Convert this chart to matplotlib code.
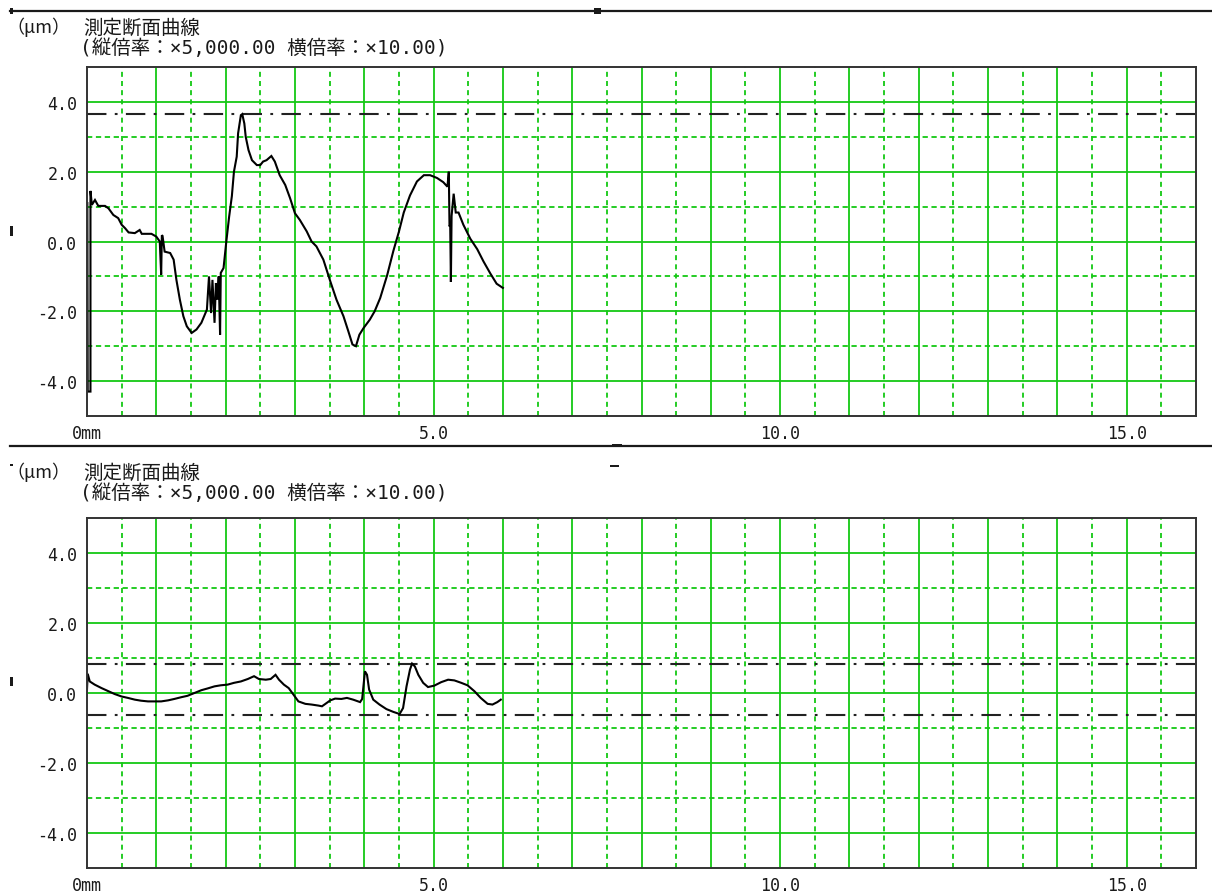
import matplotlib
matplotlib.use("Agg")
import matplotlib.pyplot as plt
from matplotlib.lines import Line2D
from matplotlib.patches import Rectangle
import numpy as np

# ---- measured profiles (x in mm, height in µm) ----
top_x = [0.005, 0.01, 0.05, 0.05, 0.07, 0.115, 0.163, 0.26, 0.31, 0.38, 0.45, 0.50, 0.55, 0.60,
         0.69, 0.76, 0.79, 0.93, 1.00, 1.05, 1.07, 1.08, 1.09, 1.12, 1.20, 1.25, 1.29, 1.34, 1.39,
         1.44, 1.51, 1.58, 1.65, 1.73, 1.76, 1.79, 1.81, 1.84, 1.86, 1.88, 1.90, 1.92, 1.93, 1.97,
         2.01, 2.05, 2.09, 2.12, 2.16, 2.18, 2.22, 2.24, 2.27, 2.29, 2.33, 2.38, 2.45, 2.50, 2.54,
         2.59, 2.66, 2.71, 2.78, 2.86, 2.93, 3.00, 3.07, 3.17, 3.24, 3.31, 3.41, 3.51, 3.60, 3.70,
         3.77, 3.83, 3.88, 3.93, 3.99, 4.08, 4.15, 4.23, 4.33, 4.42, 4.50, 4.57, 4.66, 4.76, 4.86,
         4.95, 5.05, 5.14, 5.20, 5.22, 5.23, 5.24, 5.25, 5.26, 5.29, 5.32, 5.36, 5.43, 5.53, 5.63,
         5.72, 5.82, 5.91, 6.00]
top_y = [1.10, -4.30, -4.30, 1.45, 1.05, 1.19, 1.02, 1.02, 0.95, 0.76, 0.67, 0.48, 0.38, 0.26,
         0.24, 0.33, 0.22, 0.22, 0.14, 0.00, -0.95, 0.18, 0.16, -0.29, -0.33, -0.52, -1.10, -1.67,
         -2.14, -2.43, -2.62, -2.52, -2.33, -1.95, -1.00, -2.05, -1.10, -2.33, -1.19, -1.67, -1.00,
         -2.67, -0.90, -0.76, 0.00, 0.70, 1.30, 2.00, 2.43, 3.10, 3.62, 3.65, 3.38, 3.00, 2.62,
         2.33, 2.19, 2.19, 2.29, 2.33, 2.45, 2.29, 1.90, 1.62, 1.24, 0.81, 0.62, 0.29, 0.00, -0.14,
         -0.52, -1.14, -1.67, -2.14, -2.57, -2.95, -3.00, -2.67, -2.48, -2.24, -2.00, -1.62, -0.97,
         -0.27, 0.28, 0.83, 1.32, 1.72, 1.90, 1.90, 1.82, 1.70, 1.57, 2.00, 0.43, 0.48, -1.16, 0.73,
         1.37, 0.83, 0.83, 0.48, 0.08, -0.22, -0.57, -0.92, -1.21, -1.33]
top_levels = [3.65]

bot_x = [0.00, 0.01, 0.04, 0.11, 0.21, 0.31, 0.40, 0.50, 0.59, 0.69, 0.78, 0.88, 0.98, 1.07,
         1.17, 1.26, 1.36, 1.45, 1.55, 1.65, 1.74, 1.84, 1.93, 2.03, 2.12, 2.22, 2.32, 2.41, 2.48,
         2.58, 2.65, 2.72, 2.77, 2.84, 2.91, 2.98, 3.05, 3.15, 3.24, 3.34, 3.39, 3.44, 3.51, 3.58,
         3.67, 3.75, 3.84, 3.94, 3.97, 4.01, 4.04, 4.07, 4.13, 4.22, 4.32, 4.42, 4.51, 4.56, 4.61,
         4.66, 4.69, 4.73, 4.78, 4.85, 4.92, 5.01, 5.11, 5.21, 5.30, 5.40, 5.49, 5.59, 5.68, 5.78,
         5.85, 5.92, 5.97]
bot_y = [0.10, 0.55, 0.33, 0.24, 0.14, 0.05, -0.03, -0.10, -0.14, -0.19, -0.22, -0.24, -0.24,
         -0.24, -0.21, -0.17, -0.12, -0.08, 0.00, 0.08, 0.13, 0.19, 0.22, 0.24, 0.29, 0.33, 0.40,
         0.48, 0.40, 0.38, 0.40, 0.52, 0.38, 0.24, 0.14, -0.05, -0.24, -0.31, -0.33, -0.36, -0.38,
         -0.31, -0.21, -0.16, -0.17, -0.14, -0.19, -0.26, -0.17, 0.62, 0.52, 0.10, -0.19, -0.33,
         -0.46, -0.54, -0.60, -0.43, 0.19, 0.67, 0.84, 0.76, 0.52, 0.29, 0.17, 0.21, 0.31, 0.38,
         0.36, 0.29, 0.22, 0.05, -0.14, -0.31, -0.33, -0.26, -0.19]
bot_levels = [0.84, -0.62]

x_ticks = [0, 5, 10, 15]
x_tick_labels = ["0mm", "5.0", "10.0", "15.0"]
y_ticks = [-4, -2, 0, 2, 4]
y_tick_labels = ["-4.0", "-2.0", "0.0", "2.0", "4.0"]

unit_label = "（μm）"
title_line1 = "測定断面曲線"
title_line2 = "(縦倍率：×5,000.00 横倍率：×10.00)"

# ---- styling ----
GREEN = "#14c814"
INK = "#1a1a1a"
CJK = ["Noto Sans CJK JP", "DejaVu Sans"]
MONO_CJK = ["DejaVu Sans Mono", "Noto Sans CJK JP"]
MONO = ["DejaVu Sans Mono"]
plt.rcParams["lines.scale_dashes"] = False
plt.rcParams["font.family"] = CJK

W, H = 1212, 895
fig = plt.figure(figsize=(W / 100, H / 100), dpi=100)
fig.patch.set_facecolor("white")


def fx(px):
    return px / W


def fy(py):
    return 1 - py / H


def make_panel(top_px, bottom_px, xs, ys, levels):
    ax = fig.add_axes([fx(87), fy(bottom_px), fx(1196) - fx(87), (bottom_px - top_px) / H])
    ax.set_xlim(0, 16)
    ax.set_ylim(-5, 5)
    # grid: solid every 1 mm / 2 µm, dashed halfway between
    for gx in np.arange(0.5, 16, 0.5):
        if float(gx).is_integer():
            ax.axvline(gx, color=GREEN, lw=1.3, zorder=1)
        else:
            ax.axvline(gx, color=GREEN, lw=1.3, ls=(0, (3.6, 3.0)), zorder=1)
    for gy in np.arange(-4, 5, 1):
        if gy % 2 == 0:
            ax.axhline(gy, color=GREEN, lw=1.3, zorder=1)
        else:
            ax.axhline(gy, color=GREEN, lw=1.3, ls=(0, (3.8, 2.6)), zorder=1)
    for lv in levels:
        ax.axhline(lv, color="#222222", lw=1.5, ls=(0, (14.0, 6.0, 2.0, 6.0)), zorder=2)
    ax.plot(xs, ys, color="black", lw=1.5, zorder=3, solid_joinstyle="miter")
    ax.set_xticks(x_ticks)
    ax.set_xticklabels(x_tick_labels)
    ax.set_yticks(y_ticks)
    ax.set_yticklabels(y_tick_labels)
    ax.tick_params(length=0, labelsize=12, colors=INK)
    ax.tick_params(axis="x", pad=6)
    ax.tick_params(axis="y", pad=7)
    for lab in ax.get_xticklabels() + ax.get_yticklabels():
        lab.set_family(MONO)
    for sp in ax.spines.values():
        sp.set_color("#333333")
        sp.set_linewidth(1.4)
        sp.set_zorder(4)
    return ax


make_panel(68, 417, top_x, top_y, top_levels)
make_panel(519, 869, bot_x, bot_y, bot_levels)

# headings (baseline-anchored so the two lines sit tight like the instrument printout)
for b1, b2 in [(34, 54), (479, 499)]:
    fig.text(fx(6), fy(b1 - 1), unit_label, fontsize=13, va="baseline", ha="left",
             color=INK, family=CJK)
    fig.text(fx(83), fy(b1), title_line1, fontsize=14, va="baseline", ha="left",
             color=INK, family=CJK)
    fig.text(fx(80), fy(b2), title_line2, fontsize=14, va="baseline", ha="left",
             color=INK, family=MONO_CJK)

# page separators and small marks
for sy in (12, 447):
    fig.add_artist(Line2D([fx(10), 1.0], [fy(sy), fy(sy)], transform=fig.transFigure,
                          color=INK, lw=1.6))
marks = [(10, 9, 3, 6), (594, 9, 7, 6), (612, 445, 10, 3), (10, 227, 3, 10),
         (10, 678, 3, 9), (10, 465, 3, 2), (610, 466, 9, 2)]
for mx, my, mw, mh in marks:
    fig.add_artist(Rectangle((fx(mx), fy(my + mh)), mw / W, mh / H, transform=fig.transFigure,
                             color=INK, lw=0))

fig.savefig("out.png", dpi=100, facecolor="white")
